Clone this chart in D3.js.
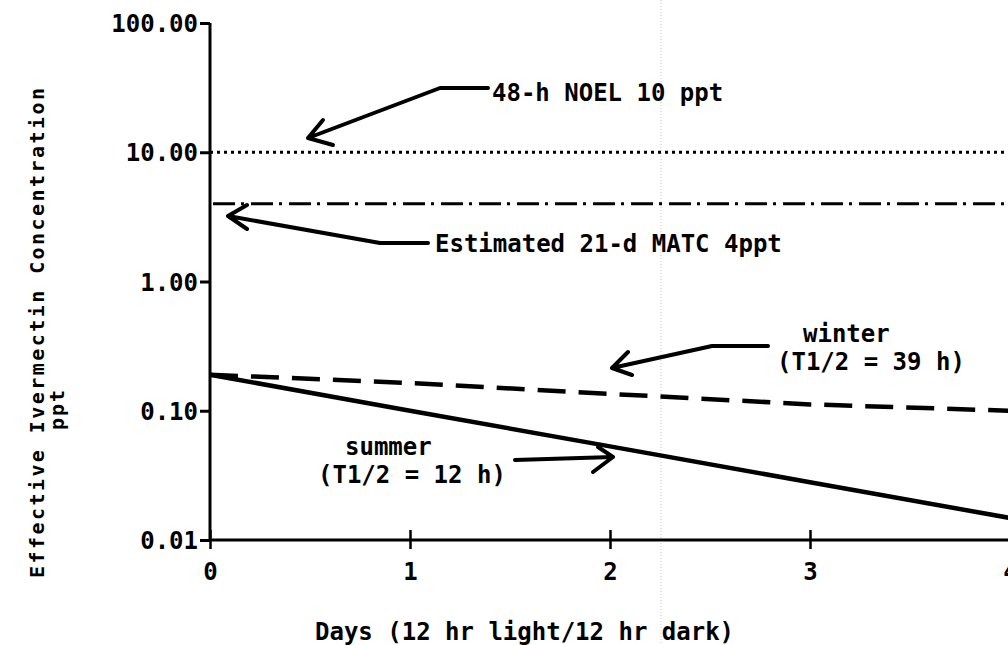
<!DOCTYPE html>
<html>
<head>
<meta charset="utf-8">
<script src="https://cdn.jsdelivr.net/npm/d3@7"></script>
<style>
  body { margin: 0; background: #fff; }
  svg text { font-family: "DejaVu Sans Mono", "Liberation Mono", monospace; font-weight: bold; fill: #000; }
</style>
</head>
<body>
<div id="chart"></div>
<script>
// values
var days = [0, 1, 2, 3, 4];
var summer = [0.19, 0.10, 0.053, 0.028, 0.0148];
var winter = [0.19, 0.164, 0.135, 0.112, 0.10];
var noel = 10;
var matc = 4;
var yTicks = [0.01, 0.1, 1, 10, 100];
var xTicks = [0, 1, 2, 3, 4];

var width = 1008, height = 645;

var svg = d3.select("#chart").append("svg")
    .attr("width", width)
    .attr("height", height);

var x = d3.scaleLinear().domain([0, 4]).range([210, 1010]);
var y = d3.scaleLog().domain([0.01, 100]).range([540, 23]);

// faint scanner fold line
svg.append("line")
    .attr("x1", 661).attr("x2", 661)
    .attr("y1", 0).attr("y2", height)
    .attr("stroke", "#c8c8c8")
    .attr("stroke-width", 1)
    .attr("stroke-dasharray", "1,2");

/*** AXES */
var yAxis = svg.append("g")
    .attr("transform", "translate(" + x(0) + ",0)")
    .call(d3.axisLeft(y).tickValues(yTicks).tickFormat(d3.format(".2f")).tickSize(10).tickPadding(2));

yAxis.select(".domain").attr("stroke-width", 3).attr("d", "M0," + y(100) + "V" + y(0.01));
yAxis.selectAll(".tick line").attr("stroke-width", 3);
yAxis.selectAll(".tick text")
    .attr("font-size", 24)
    .attr("dy", "0.36em");

var xAxis = svg.append("g")
    .attr("transform", "translate(0," + y(0.01) + ")")
    .call(d3.axisBottom(x).tickValues(xTicks).tickFormat(d3.format("d")).tickSize(9).tickPadding(14));

xAxis.select(".domain").attr("stroke-width", 3).attr("d", "M" + x(0) + ",0H" + width);
xAxis.selectAll(".tick line").attr("y1", -10).attr("stroke-width", 2.5);
xAxis.selectAll(".tick text")
    .attr("font-size", 24);

svg.selectAll(".tick text").attr("fill", "#000");
svg.selectAll("g").attr("font-family", null);

/*** REFERENCE LINES */
svg.append("line")
    .attr("x1", x(0)).attr("x2", width)
    .attr("y1", y(noel)).attr("y2", y(noel))
    .attr("stroke", "#000")
    .attr("stroke-width", 3)
    .attr("stroke-dasharray", "3,4");

svg.append("line")
    .attr("x1", x(0) + 3).attr("x2", width)
    .attr("y1", y(matc)).attr("y2", y(matc))
    .attr("stroke", "#000")
    .attr("stroke-width", 3)
    .attr("stroke-dasharray", "22,6,3,7");

/*** DECAY CURVES */
var line = d3.line()
    .x(function(d) { return x(d[0]); })
    .y(function(d) { return y(d[1]); });

svg.append("path")
    .datum(days.map(function(d, i) { return [d, winter[i]]; }))
    .attr("d", line)
    .attr("fill", "none")
    .attr("stroke", "#000")
    .attr("stroke-width", 4.5)
    .attr("stroke-dasharray", "28,13");

svg.append("path")
    .datum(days.map(function(d, i) { return [d, summer[i]]; }))
    .attr("d", line)
    .attr("fill", "none")
    .attr("stroke", "#000")
    .attr("stroke-width", 4.5);

/*** ANNOTATIONS */
var arrows = [
    "M488,88 H440 L308,138 M323,120 L308,138 L333,145",
    "M428,243 H380 L228,216 M247,205 L228,216 L247,229",
    "M768,346 H712 L612,368 M628,352 L612,368 L632,375",
    "M515,460 L613,457 M598,447 L613,457 L593,472"
];
svg.selectAll(".arrow")
    .data(arrows)
    .enter()
    .append("path")
    .attr("class", "arrow")
    .attr("d", function(d) { return d; })
    .attr("fill", "none")
    .attr("stroke", "#000")
    .attr("stroke-width", 4)
    .attr("stroke-linejoin", "round")
    .attr("stroke-linecap", "round");

var notes = [
    { t: "48-h NOEL 10 ppt", x: 492, y: 101 },
    { t: "Estimated 21-d MATC 4ppt", x: 435, y: 252 },
    { t: "winter", x: 803, y: 342 },
    { t: "(T1/2 = 39 h)", x: 777, y: 370 },
    { t: "summer", x: 345, y: 455 },
    { t: "(T1/2 = 12 h)", x: 318, y: 483 },
    { t: "Days (12 hr light/12 hr dark)", x: 315, y: 640 }
];
svg.selectAll(".note")
    .data(notes)
    .enter()
    .append("text")
    .attr("class", "note")
    .attr("x", function(d) { return d.x; })
    .attr("y", function(d) { return d.y; })
    .attr("font-size", 24)
    .text(function(d) { return d.t; });

svg.append("text")
    .attr("transform", "translate(44,333) rotate(-90)")
    .attr("text-anchor", "middle")
    .attr("font-size", 20)
    .attr("textLength", 490)
    .attr("lengthAdjust", "spacing")
    .text("Effective Ivermectin Concentration");

svg.append("text")
    .attr("transform", "translate(64,410) rotate(-90)")
    .attr("text-anchor", "middle")
    .attr("font-size", 20)
    .attr("textLength", 40)
    .attr("lengthAdjust", "spacing")
    .text("ppt");
</script>
</body>
</html>
